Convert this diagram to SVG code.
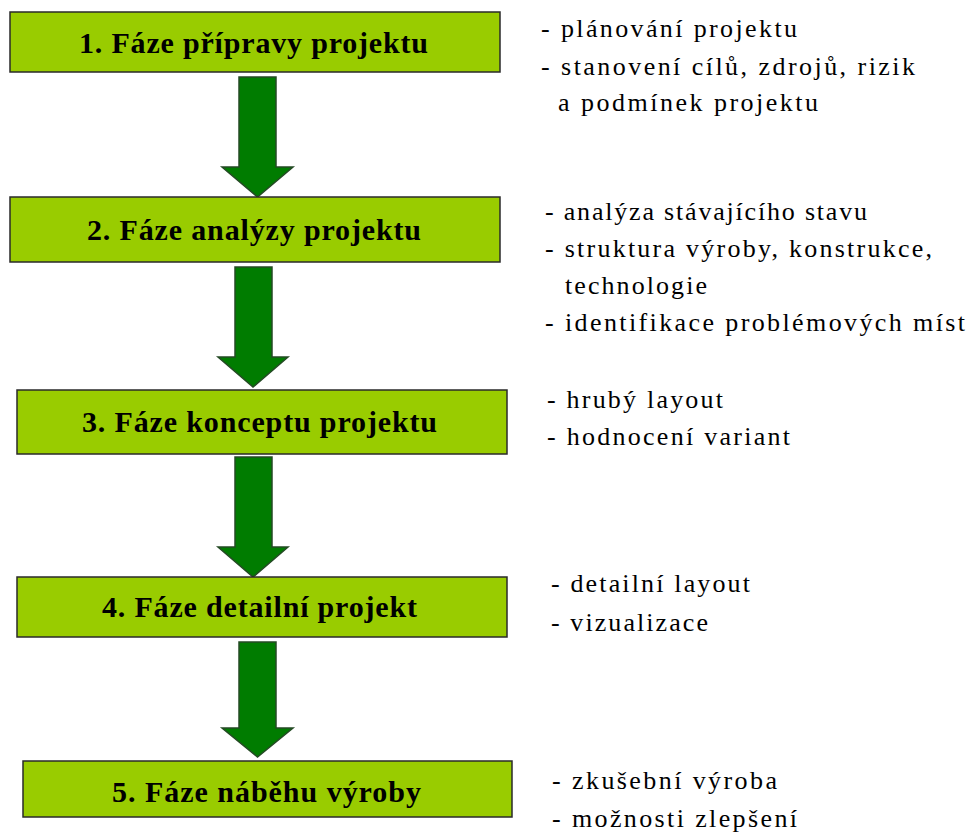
<svg xmlns="http://www.w3.org/2000/svg" width="972" height="837" viewBox="0 0 972 837">
<style>
.box{fill:#99cc00;stroke:#2a2a2a;stroke-width:1.5}
.arr{fill:#007c00;stroke:#244a24;stroke-width:1.5;stroke-linejoin:miter}
.t{font-family:"Liberation Serif","Times New Roman",serif;font-weight:bold;font-size:30px;fill:#000}
.n{font-family:"Liberation Serif","Times New Roman",serif;font-size:26px;fill:#000}
</style>
<rect width="972" height="837" fill="#fff"/>
<g id="connectors">
<polygon class="arr" points="239,77 276,77 276,167 293,167 257.5,197 222,167 239,167"/>
<polygon class="arr" points="235,267 272,267 272,357 288,357 253,387 218,357 235,357"/>
<polygon class="arr" points="235,457 272,457 272,547 288,547 253,577 218,547 235,547"/>
<polygon class="arr" points="239,642 276,642 276,728 293,728 257.5,757 222,728 239,728"/>
</g>
<g id="node1">
<rect class="box" x="10" y="12" width="490" height="60"/>
<text class="t" x="79" y="53" textLength="349">1. Fáze přípravy projektu</text>
</g>
<g id="node2">
<rect class="box" x="10" y="197" width="490" height="65"/>
<text class="t" x="87" y="240" textLength="334">2. Fáze analýzy projektu</text>
</g>
<g id="node3">
<rect class="box" x="17" y="390" width="490" height="64"/>
<text class="t" x="82" y="432" textLength="355">3. Fáze konceptu projektu</text>
</g>
<g id="node4">
<rect class="box" x="17" y="577" width="490" height="60"/>
<text class="t" x="102" y="617" textLength="315">4. Fáze detailní projekt</text>
</g>
<g id="node5">
<rect class="box" x="23" y="761" width="489" height="56"/>
<text class="t" x="112" y="802" textLength="309">5. Fáze náběhu výroby</text>
</g>
<g id="notes1">
<text class="n" x="541" y="37" textLength="256">- plánování projektu</text>
<text class="n" x="541" y="75" textLength="374">- stanovení cílů, zdrojů, rizik</text>
<text class="n" x="558" y="111" textLength="260">a podmínek projektu</text>
</g>
<g id="notes2">
<text class="n" x="545" y="220" textLength="322">- analýza stávajícího stavu</text>
<text class="n" x="545" y="257" textLength="387">- struktura výroby, konstrukce,</text>
<text class="n" x="565" y="294" textLength="142">technologie</text>
<text class="n" x="545" y="331" textLength="420">- identifikace problémových míst</text>
</g>
<g id="notes3">
<text class="n" x="547" y="408" textLength="176">- hrubý layout</text>
<text class="n" x="547" y="445" textLength="243">- hodnocení variant</text>
</g>
<g id="notes4">
<text class="n" x="551" y="592" textLength="199">- detailní layout</text>
<text class="n" x="551" y="631" textLength="157">- vizualizace</text>
</g>
<g id="notes5">
<text class="n" x="552" y="789" textLength="225">- zkušební výroba</text>
<text class="n" x="552" y="827" textLength="245">- možnosti zlepšení</text>
</g>
</svg>
